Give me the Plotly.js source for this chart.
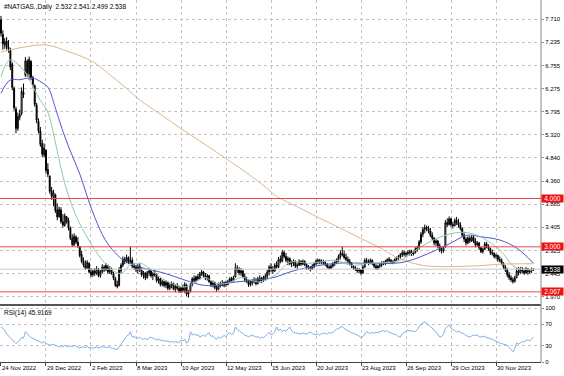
<!DOCTYPE html>
<html><head><meta charset="utf-8">
<script src="https://cdn.plot.ly/plotly-3.0.1.min.js"></script>
<style>html,body{margin:0;padding:0;background:#fff;} #chart{width:564px;height:376px;}</style>
</head><body><div id="chart"></div>
<script>
const symbolTitle = '#NATGAS.,Daily  2.532 2.541 2.499 2.538';
const rsiTitle = 'RSI(14) 45.9169';

const dateIdx = [0,24,48,72,96,120,144,168,192,216,240,264];
const dateLabels = ['24 Nov 2022','29 Dec 2022','2 Feb 2023','8 Mar 2023','10 Apr 2023','12 May 2023','15 Jun 2023','20 Jul 2023','23 Aug 2023','26 Sep 2023','29 Oct 2023','30 Nov 2023'];

const priceTicks = [7.710,7.235,6.755,6.275,5.795,5.320,4.840,4.360,3.885,3.405,2.925,2.445,1.970];
const priceTickText = ['7.710','7.235','6.755','6.275','5.795','5.320','4.840','4.360','3.885','3.405','2.925','2.445','1.970'];
const rsiTicks = [0,30,70,100];
const rsiTickText = ['0','30','70','100'];

const levelPrices = [4.000, 3.000, 2.067];
const levelText = ['4.000','3.000','2.067'];
const lastPrice = 2.538;
const lastPriceText = '2.538';

const openP = [
7.70,7.40,7.18,7.26,7.14,7.08,6.78,6.28,5.85,5.45,
5.68,5.76,6.20,6.55,6.84,6.58,6.84,6.50,6.34,5.94,
5.60,5.40,5.14,4.90,5.00,4.60,4.46,4.16,4.02,4.08,
3.76,3.62,3.76,3.52,3.44,3.62,3.54,3.40,3.18,3.04,
3.20,3.10,3.00,2.84,2.70,2.62,2.56,2.66,2.48,2.42,
2.50,2.45,2.54,2.40,2.48,2.58,2.52,2.60,2.48,2.54,
2.44,2.34,2.22,2.20,2.50,2.62,2.74,2.70,2.78,2.68,
2.72,2.60,2.58,2.52,2.60,2.52,2.42,2.46,2.36,2.46,
2.50,2.40,2.44,2.42,2.30,2.34,2.22,2.28,2.20,2.26,
2.14,2.20,2.24,2.12,2.18,2.14,2.08,2.15,2.10,2.20,
2.02,2.08,2.22,2.34,2.30,2.38,2.34,2.44,2.48,2.40,
2.36,2.40,2.28,2.22,2.26,2.16,2.12,2.22,2.24,2.20,
2.26,2.22,2.28,2.34,2.30,2.38,2.56,2.52,2.46,2.50,
2.38,2.32,2.30,2.22,2.26,2.30,2.27,2.24,2.34,2.30,
2.36,2.32,2.40,2.48,2.58,2.54,2.50,2.62,2.58,2.74,
2.70,2.88,2.80,2.72,2.76,2.65,2.68,2.70,2.60,2.62,
2.70,2.64,2.70,2.63,2.56,2.58,2.54,2.60,2.65,2.70,
2.72,2.68,2.70,2.66,2.64,2.58,2.56,2.60,2.66,2.68,
2.74,2.80,2.86,2.84,2.78,2.74,2.70,2.66,2.60,2.56,
2.54,2.50,2.52,2.46,2.58,2.72,2.70,2.66,2.72,2.65,
2.60,2.56,2.60,2.62,2.66,2.68,2.70,2.74,2.72,2.68,
2.70,2.74,2.78,2.80,2.84,2.88,2.84,2.86,2.88,2.90,
2.85,2.88,2.95,2.98,3.10,3.26,3.36,3.40,3.38,3.33,
3.24,3.18,3.08,3.12,3.02,2.94,2.92,3.00,3.50,3.46,
3.58,3.46,3.44,3.55,3.50,3.45,3.38,3.24,3.16,3.08,
3.18,3.12,3.20,3.12,3.04,3.08,2.98,2.90,2.95,3.06,
3.02,2.96,2.88,2.86,2.80,2.82,2.74,2.72,2.66,2.58,
2.52,2.42,2.36,2.32,2.28,2.36,2.50,2.46,2.54,2.50,
2.46,2.54,2.48,2.50,2.532];

const highP = [
7.78,7.48,7.32,7.34,7.28,7.12,6.82,6.32,5.90,5.78,
5.84,6.30,6.38,6.93,6.88,6.94,6.86,6.54,6.36,5.98,
5.66,5.48,5.22,5.14,5.02,4.73,4.48,4.24,4.18,4.10,
3.90,3.83,3.82,3.68,3.69,3.64,3.60,3.42,3.26,3.28,
3.24,3.20,3.02,2.92,2.78,2.72,2.72,2.68,2.56,2.54,
2.56,2.60,2.56,2.52,2.64,2.62,2.66,2.63,2.60,2.57,
2.48,2.38,2.30,2.58,2.66,2.80,2.79,2.84,2.80,3.00,
2.78,2.66,2.62,2.64,2.66,2.56,2.50,2.48,2.50,2.56,
2.54,2.48,2.52,2.45,2.38,2.36,2.32,2.30,2.31,2.28,
2.24,2.28,2.26,2.22,2.25,2.20,2.18,2.22,2.27,2.24,
2.10,2.25,2.37,2.41,2.40,2.44,2.48,2.52,2.50,2.46,
2.44,2.42,2.31,2.30,2.28,2.20,2.26,2.28,2.31,2.28,
2.30,2.32,2.37,2.38,2.40,2.66,2.62,2.58,2.56,2.52,
2.45,2.38,2.32,2.30,2.33,2.37,2.35,2.38,2.41,2.38,
2.40,2.44,2.52,2.62,2.66,2.60,2.66,2.70,2.79,2.82,
2.93,2.92,2.87,2.80,2.78,2.72,2.74,2.72,2.66,2.74,
2.72,2.74,2.72,2.66,2.62,2.60,2.64,2.68,2.74,2.76,
2.75,2.74,2.73,2.71,2.66,2.62,2.64,2.68,2.70,2.76,
2.84,2.93,3.00,2.92,2.86,2.80,2.75,2.68,2.62,2.60,
2.57,2.56,2.54,2.62,2.76,2.77,2.74,2.76,2.74,2.67,
2.64,2.63,2.66,2.70,2.70,2.73,2.76,2.79,2.75,2.72,
2.76,2.80,2.83,2.87,2.93,2.92,2.90,2.93,2.94,2.94,
2.92,2.99,3.02,3.14,3.31,3.41,3.46,3.44,3.43,3.39,
3.30,3.20,3.16,3.14,3.07,2.99,3.02,3.55,3.59,3.63,
3.60,3.52,3.59,3.62,3.58,3.51,3.40,3.31,3.20,3.22,
3.22,3.24,3.24,3.18,3.12,3.10,3.00,2.98,3.10,3.10,
3.05,2.98,2.94,2.89,2.86,2.84,2.80,2.76,2.68,2.62,
2.56,2.48,2.41,2.37,2.40,2.56,2.58,2.58,2.58,2.55,
2.58,2.56,2.54,2.57,2.541];

const lowP = [
7.35,7.08,7.10,7.08,7.02,6.66,6.24,5.82,5.35,5.40,
5.62,5.72,6.08,6.52,6.52,6.45,6.45,6.30,5.90,5.56,
5.35,5.07,4.86,4.86,4.52,4.44,4.10,3.97,3.84,3.70,
3.55,3.60,3.48,3.40,3.42,3.48,3.34,3.14,3.00,3.02,
3.06,2.98,2.78,2.66,2.58,2.52,2.54,2.45,2.37,2.38,
2.40,2.42,2.37,2.36,2.45,2.48,2.50,2.44,2.44,2.42,
2.31,2.17,2.14,2.18,2.46,2.58,2.64,2.66,2.64,2.66,
2.56,2.52,2.48,2.44,2.48,2.38,2.34,2.31,2.34,2.40,
2.36,2.31,2.38,2.26,2.24,2.18,2.18,2.16,2.14,2.10,
2.10,2.14,2.10,2.06,2.10,2.05,2.04,2.06,2.04,1.98,
1.95,2.06,2.18,2.27,2.26,2.30,2.32,2.40,2.36,2.31,
2.30,2.25,2.17,2.16,2.12,2.07,2.10,2.16,2.18,2.16,
2.17,2.20,2.25,2.26,2.28,2.36,2.46,2.41,2.40,2.35,
2.27,2.25,2.17,2.18,2.20,2.24,2.20,2.22,2.26,2.25,
2.27,2.30,2.35,2.41,2.48,2.44,2.48,2.55,2.56,2.66,
2.68,2.76,2.68,2.62,2.62,2.58,2.60,2.56,2.54,2.60,
2.60,2.62,2.60,2.52,2.52,2.49,2.52,2.56,2.62,2.64,
2.64,2.64,2.63,2.60,2.55,2.53,2.54,2.57,2.60,2.64,
2.68,2.74,2.80,2.74,2.70,2.66,2.62,2.56,2.52,2.50,
2.46,2.45,2.41,2.44,2.56,2.66,2.62,2.64,2.62,2.56,
2.52,2.52,2.56,2.58,2.62,2.62,2.66,2.68,2.66,2.64,
2.67,2.70,2.73,2.75,2.79,2.80,2.79,2.82,2.82,2.81,
2.82,2.86,2.90,2.94,3.06,3.20,3.28,3.32,3.28,3.20,
3.14,3.03,3.02,2.97,2.89,2.86,2.88,2.98,3.41,3.44,
3.41,3.38,3.42,3.45,3.40,3.34,3.20,3.10,3.03,3.05,
3.08,3.10,3.08,2.99,3.00,2.93,2.87,2.86,2.93,2.97,
2.92,2.83,2.82,2.76,2.75,2.69,2.68,2.62,2.54,2.48,
2.37,2.31,2.27,2.24,2.26,2.35,2.41,2.44,2.45,2.42,
2.44,2.42,2.44,2.46,2.499];

const closeP = [
7.42,7.20,7.25,7.14,7.10,6.72,6.30,5.88,5.45,5.70,
5.74,6.22,6.15,6.85,6.60,6.88,6.50,6.36,5.95,5.62,
5.40,5.12,4.92,5.05,4.58,4.50,4.15,4.05,4.12,3.75,
3.62,3.78,3.52,3.45,3.64,3.52,3.40,3.18,3.05,3.22,
3.10,3.02,2.82,2.70,2.62,2.55,2.68,2.48,2.42,2.50,
2.45,2.55,2.40,2.48,2.58,2.52,2.62,2.48,2.55,2.45,
2.35,2.20,2.18,2.52,2.62,2.74,2.70,2.78,2.68,2.72,
2.60,2.58,2.52,2.60,2.52,2.42,2.46,2.36,2.46,2.50,
2.40,2.44,2.42,2.30,2.34,2.22,2.28,2.20,2.26,2.14,
2.20,2.24,2.12,2.18,2.14,2.08,2.15,2.10,2.22,2.02,
2.06,2.22,2.34,2.30,2.38,2.34,2.44,2.48,2.40,2.36,
2.40,2.28,2.22,2.26,2.16,2.12,2.22,2.24,2.20,2.26,
2.22,2.28,2.34,2.30,2.36,2.56,2.52,2.46,2.50,2.38,
2.32,2.30,2.22,2.26,2.30,2.27,2.24,2.34,2.30,2.36,
2.32,2.40,2.48,2.58,2.54,2.50,2.62,2.58,2.74,2.70,
2.88,2.80,2.72,2.76,2.65,2.68,2.70,2.60,2.62,2.70,
2.64,2.70,2.63,2.56,2.58,2.54,2.60,2.65,2.70,2.72,
2.68,2.70,2.66,2.64,2.58,2.56,2.60,2.66,2.68,2.74,
2.80,2.86,2.84,2.78,2.74,2.70,2.66,2.60,2.56,2.54,
2.50,2.52,2.46,2.58,2.72,2.70,2.66,2.72,2.65,2.60,
2.56,2.60,2.62,2.66,2.68,2.70,2.74,2.72,2.68,2.70,
2.74,2.78,2.80,2.84,2.88,2.84,2.86,2.88,2.90,2.85,
2.88,2.95,2.98,3.10,3.26,3.36,3.40,3.38,3.33,3.24,
3.18,3.08,3.12,3.02,2.94,2.92,2.98,3.50,3.46,3.58,
3.46,3.44,3.55,3.50,3.45,3.38,3.24,3.16,3.08,3.18,
3.12,3.20,3.12,3.04,3.08,2.98,2.90,2.95,3.06,3.02,
2.96,2.88,2.86,2.80,2.82,2.74,2.72,2.66,2.58,2.52,
2.42,2.36,2.32,2.28,2.36,2.50,2.46,2.54,2.50,2.46,
2.54,2.48,2.50,2.53,2.538];

const rsiValues = [
65,62,59,52,48,44,40,36,34,37,
40,46,44,56,52,47,45,44,42,41,
39,37,35,38,34,33,31,32,33,31,
29,28,30,28,31,29,28,30,28,31,
29,27,26,27,28,27,29,26,27,25,
27,28,26,28,29,27,28,27,28,26,
25,24,23,28,33,40,44,48,50,56,
46,47,45,44,46,43,42,44,41,45,
46,44,43,41,42,41,39,40,38,39,
37,38,36,38,37,36,41,39,42,35,
38,56,50,52,49,51,46,48,50,47,
52,54,47,49,44,42,47,44,46,49,
47,52,54,51,53,65,60,58,56,53,
50,49,47,48,50,48,46,47,44,46,
45,48,51,55,50,52,56,65,58,61,
56,59,57,62,65,58,55,54,53,52,
52,54,53,51,55,55,53,51,50,52,
50,53,52,54,51,55,53,55,58,61,
62,64,66,62,60,57,56,54,53,52,
50,48,45,47,52,56,54,53,55,53,
55,54,56,57,58,56,58,55,54,53,
52,50,47,46,52,55,57,59,57,58,
57,56,60,65,70,72,74,72,68,65,
63,58,56,50,46,47,51,62,65,69,
63,60,58,56,57,55,54,52,49,47,
46,48,50,49,50,47,46,48,47,45,
44,43,42,40,39,37,35,34,33,32,
31,27,23,19,25,35,33,36,38,37,
40,41,39,43,45.92];

// moving averages (bar index -> value)
const maSlowIdx = [0,10.1,23.5,36.8,49.1,58.1,66.1,74.1,84.8,95.5,106.1,119.5,137.1,146.1,149,159.5,170.1,180.8,191.5,202.1,210,218.1,226,237.9,255.5,266.1,284];
const maSlowVal = [7.03,7.12,7.18,7.03,6.83,6.56,6.31,6.04,5.75,5.46,5.19,4.84,4.36,4.07,4.00,3.80,3.59,3.39,3.18,2.98,2.80,2.68,2.61,2.59,2.61,2.64,2.65];

const maMidIdx = [0,4.8,10.1,16.5,21.9,25.1,28.8,32.5,36.8,42.1,45.9,50.1,55.5,60.8,66.1,74.1,87.5,98.1,107.2,114.1,124.8,135.5,146.1,154.1,164.8,179.2,196.8,212.8,223.5,239.5,248.5,255.5,266.1,275.2,284];
const maMidVal = [6.18,6.45,6.46,6.50,6.40,6.30,5.90,5.45,5.00,4.50,4.05,3.60,3.15,2.88,2.70,2.58,2.45,2.31,2.21,2.20,2.27,2.31,2.37,2.48,2.58,2.66,2.66,2.67,2.79,3.07,3.24,3.21,3.14,2.97,2.66];

const maFastIdx = [0,4.8,12.8,17.1,20.8,24.5,27.2,29.9,34.1,39.5,44.8,50.1,55.5,60.8,64.5,68.8,74.1,76.8,87.5,98.1,103.5,108.8,114.1,121.1,128.5,137.1,146.1,154.1,164.8,179.2,186.1,196.8,212.8,223.5,234.1,244.8,253.9,266.1,274.1,284];
const maFastVal = [6.52,6.87,6.62,6.31,6.04,5.83,5.48,5.00,4.30,3.69,3.28,2.93,2.66,2.48,2.45,2.62,2.66,2.62,2.31,2.17,2.27,2.37,2.25,2.25,2.37,2.27,2.41,2.68,2.66,2.72,2.62,2.66,2.72,2.99,3.20,3.30,3.24,2.93,2.58,2.52];

const idx = closeP.map((_, i) => i);
const FONT = 'Liberation Sans, Arial, sans-serif';

const traces = [
  {type:'scatter', mode:'lines', x:maSlowIdx, y:maSlowVal, line:{color:'#dcb78f', width:1, shape:'spline'}, xaxis:'x', yaxis:'y', hoverinfo:'skip'},
  {type:'scatter', mode:'lines', x:maMidIdx, y:maMidVal, line:{color:'#5555cc', width:1, shape:'spline'}, xaxis:'x', yaxis:'y', hoverinfo:'skip'},
  {type:'scatter', mode:'lines', x:maFastIdx, y:maFastVal, line:{color:'#8fc9a6', width:1, shape:'spline'}, xaxis:'x', yaxis:'y', hoverinfo:'skip'},
  {type:'candlestick', x:idx, open:openP, high:highP, low:lowP, close:closeP, xaxis:'x', yaxis:'y',
   increasing:{line:{color:'#000', width:1}, fillcolor:'#ffffff'},
   decreasing:{line:{color:'#000', width:1}, fillcolor:'#000000'},
   whiskerwidth:0, hoverinfo:'skip'},
  {type:'scatter', mode:'lines', x:idx, y:rsiValues, line:{color:'#7fb0e6', width:1}, xaxis:'x', yaxis:'y2', hoverinfo:'skip'}
];

const mainBottom = (362-304)/362;
const rsiTop = 56/362;
const sepY = (362-305)/362;

const shapes = [
  {type:'line', xref:'paper', yref:'paper', x0:0, x1:1, y0:sepY, y1:sepY, line:{color:'#555', width:2}},
  {type:'line', xref:'paper', yref:'paper', x0:1, x1:1, y0:0, y1:1, line:{color:'#888', width:1}},
  {type:'line', xref:'paper', yref:'y', x0:0, x1:1, y0:lastPrice, y1:lastPrice, line:{color:'#c8c8c8', width:1}}
];
levelPrices.forEach(p => shapes.push({type:'line', xref:'paper', yref:'y', x0:0, x1:1, y0:p, y1:p, line:{color:'#f04848', width:1}}));

const annotations = [
  {xref:'paper', yref:'paper', x:0.004, y:1, xanchor:'left', yanchor:'top', yshift:-1, text:symbolTitle, showarrow:false, font:{family:FONT, size:6.5, color:'#000'}},
  {xref:'paper', yref:'paper', x:0.004, y:rsiTop, xanchor:'left', yanchor:'top', yshift:-1, text:rsiTitle, showarrow:false, font:{family:FONT, size:6.5, color:'#000'}}
];
levelPrices.forEach((p, k) => annotations.push({xref:'paper', yref:'y', x:1, y:p, xanchor:'left', yanchor:'middle', text:levelText[k], showarrow:false, bgcolor:'#ee1111', width:21, height:7, borderpad:0, align:'center', font:{family:FONT, size:6.5, color:'#fff'}}));
annotations.push({xref:'paper', yref:'y', x:1, y:lastPrice, xanchor:'left', yanchor:'middle', text:lastPriceText, showarrow:false, bgcolor:'#000', width:21, height:7, borderpad:0, align:'center', font:{family:FONT, size:6.5, color:'#fff'}});

const gridCommon = {showgrid:true, gridcolor:'#c4c4c4', griddash:'dot', gridwidth:1, zeroline:false, fixedrange:true};

const layout = {
  width:564, height:376,
  margin:{l:0, r:23, t:0, b:14, pad:0},
  paper_bgcolor:'#fff', plot_bgcolor:'#fff',
  showlegend:false,
  font:{family:FONT, size:6, color:'#000'},
  xaxis:Object.assign({}, gridCommon, {
    range:[-0.53, 288], anchor:'y2', tickmode:'array', tickvals:dateIdx, ticktext:dateLabels,
    ticks:'outside', ticklen:3, tickcolor:'#444', ticklabelposition:'outside right',
    tickfont:{family:FONT, size:6, color:'#000'}, showline:true, linecolor:'#444', linewidth:1,
    rangeslider:{visible:false}
  }),
  yaxis:Object.assign({}, gridCommon, {
    domain:[mainBottom, 1], range:[1.816, 8.110], side:'right', anchor:'x',
    tickmode:'array', tickvals:priceTicks, ticktext:priceTickText,
    ticks:'outside', ticklen:2, tickcolor:'#888', tickfont:{family:FONT, size:6, color:'#000'}, showline:false
  }),
  yaxis2:Object.assign({}, gridCommon, {
    domain:[0, rsiTop], range:[0, 103.7], side:'right', anchor:'x',
    tickmode:'array', tickvals:rsiTicks, ticktext:rsiTickText,
    ticks:'outside', ticklen:2, tickcolor:'#888', tickfont:{family:FONT, size:6, color:'#000'}, showline:false
  }),
  shapes:shapes,
  annotations:annotations
};

Plotly.newPlot('chart', traces, layout, {staticPlot:true, displayModeBar:false});
</script>
</body></html>
